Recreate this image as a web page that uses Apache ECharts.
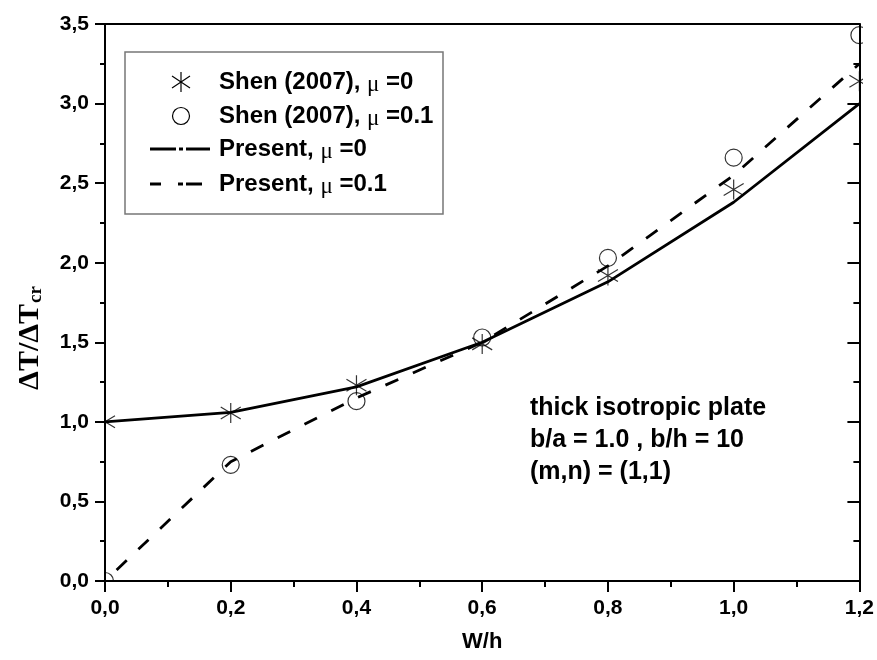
<!DOCTYPE html>
<html><head><meta charset="utf-8">
<script src="https://cdn.jsdelivr.net/npm/echarts@6/dist/echarts.min.js"></script>
<style>html,body{margin:0;padding:0;background:#fff}#c{width:877px;height:660px}</style>
</head><body><div id="c"></div>
<script>
const xVals = [0, 0.2, 0.4, 0.6, 0.8, 1.0, 1.2];
const presentMu0 = [1.0, 1.06, 1.22, 1.50, 1.88, 2.38, 3.00];
const presentMu01 = [0.0, 0.75, 1.15, 1.50, 1.98, 2.55, 3.25];
const shenMu0 = [1.0, 1.055, 1.23, 1.49, 1.92, 2.46, 3.14];
const shenMu01 = [0.0, 0.73, 1.13, 1.53, 2.03, 2.66, 3.43];
const legendNames = ['Shen (2007), ', 'Shen (2007), ', 'Present, ', 'Present, '];
const legendMu = ['=0', '=0.1', '=0', '=0.1'];
const noteLines = ['thick isotropic plate', 'b/a = 1.0 , b/h = 10', '(m,n) = (1,1)'];

const pair = arr => xVals.map((x, i) => [x, arr[i]]);
const fmt = v => v.toFixed(1).replace('.', ',');
const FONT = 'Liberation Sans, Arial, sans-serif';
const SERIF = 'Liberation Serif, Times New Roman, serif';
const starPath = 'path://M10,0L10,20M1,4L19,16M1,16L19,4';

const chart = echarts.init(document.getElementById('c'));
const W = 877, H = 660;
const gLeft = 105, gTop = 24, gRight = 15, gBottom = 79;

const legendY = [82, 116, 149, 184];
// white masks outside the plot frame so markers on the frame are clipped like the original
const graphics = [
  {type: 'rect', shape: {x: 0, y: 0, width: gLeft - 1, height: H}, style: {fill: '#fff'}, z: 5, silent: true},
  {type: 'rect', shape: {x: 0, y: H - gBottom + 1, width: W, height: gBottom}, style: {fill: '#fff'}, z: 5, silent: true},
  {type: 'rect', shape: {x: W - gRight + 1, y: 0, width: gRight, height: H}, style: {fill: '#fff'}, z: 5, silent: true},
  {type: 'rect', shape: {x: 0, y: 0, width: W, height: gTop - 1}, style: {fill: '#fff'}, z: 5, silent: true},
  {type: 'rect', shape: {x: 125, y: 52, width: 318, height: 162},
   style: {fill: '#fff', stroke: '#777', lineWidth: 1.5}, z: 50}
];
// legend star (three strokes)
const sx = 181, sy = legendY[0];
[[0, -10, 0, 10], [-9, -6, 9, 6], [-9, 6, 9, -6]].forEach(s =>
  graphics.push({type: 'line', shape: {x1: sx + s[0], y1: sy + s[1], x2: sx + s[2], y2: sy + s[3]}, style: {stroke: '#000', lineWidth: 1.2}, z: 51}));
graphics.push({type: 'circle', shape: {cx: 181, cy: legendY[1], r: 8.5}, style: {fill: 'none', stroke: '#000', lineWidth: 1.2}, z: 51});
[[150,176],[179,183],[186,210]].forEach(s => graphics.push({type: 'line', shape: {x1: s[0], y1: legendY[2], x2: s[1], y2: legendY[2]}, style: {stroke: '#000', lineWidth: 3}, z: 51}));
[[150,161],[178,183],[186,202]].forEach(s => graphics.push({type: 'line', shape: {x1: s[0], y1: legendY[3], x2: s[1], y2: legendY[3]}, style: {stroke: '#000', lineWidth: 3}, z: 51}));
legendNames.forEach((n, i) => graphics.push({type: 'text', x: 219, y: legendY[i], z: 51,
  style: {text: '{a|' + n + '}{m|μ}{a| ' + legendMu[i] + '}', verticalAlign: 'middle',
    rich: {a: {fontFamily: FONT, fontWeight: 'bold', fontSize: 24, fill: '#000'},
           m: {fontFamily: SERIF, fontSize: 23, fill: '#000', padding: [5, 0, 0, 0]}}}}));
noteLines.forEach((t, i) => graphics.push({type: 'text', x: 530, y: 408 + i * 32, z: 51,
  style: {text: t, verticalAlign: 'middle', fontFamily: FONT, fontWeight: 'bold', fontSize: 25, fill: '#000'}}));
// y-axis title
graphics.push({type: 'text', x: 30, y: 338, rotation: Math.PI / 2, z: 51,
  style: {text: '{a|ΔT/ΔT}{b|cr}', align: 'center', verticalAlign: 'middle',
    rich: {a: {fontFamily: SERIF, fontWeight: 'bold', fontSize: 30, fill: '#000'},
           b: {fontFamily: SERIF, fontWeight: 'bold', fontSize: 19, fill: '#000', padding: [12, 0, 0, 1]}}}});

const axisCommon = {
  z: 10,
  axisLine: {onZero: false, lineStyle: {color: '#000', width: 2}},
  splitLine: {show: false}
};
const tickStyle = {color: '#000', width: 2};

chart.setOption({
  animation: false,
  backgroundColor: '#fff',
  grid: {left: gLeft, top: gTop, right: gRight, bottom: gBottom, containLabel: false},
  xAxis: [
    Object.assign({type: 'value', min: 0, max: 1.2, interval: 0.2, position: 'bottom',
      name: 'W/h', nameLocation: 'middle', nameGap: 50,
      nameTextStyle: {fontFamily: FONT, fontWeight: 'bold', fontSize: 22, color: '#000'},
      axisTick: {show: true, inside: false, length: 11, lineStyle: tickStyle},
      minorTick: {show: true, splitNumber: 2, length: 6, lineStyle: tickStyle},
      axisLabel: {formatter: fmt, margin: 17, fontFamily: FONT, fontWeight: 'bold', fontSize: 21, color: '#000'}
    }, axisCommon),
    Object.assign({type: 'value', min: 0, max: 1.2, interval: 0.2, position: 'top',
      axisTick: {show: false}, axisLabel: {show: false}}, axisCommon)
  ],
  yAxis: [
    Object.assign({type: 'value', min: 0, max: 3.5, interval: 0.5, position: 'left',
      axisTick: {show: true, inside: false, length: 10, lineStyle: tickStyle},
      minorTick: {show: true, splitNumber: 2, length: 5, lineStyle: tickStyle},
      axisLabel: {formatter: fmt, margin: 16, fontFamily: FONT, fontWeight: 'bold', fontSize: 21, color: '#000'}
    }, axisCommon),
    Object.assign({type: 'value', min: 0, max: 3.5, interval: 0.5, position: 'right',
      axisTick: {show: true, inside: true, length: 12, lineStyle: tickStyle},
      minorTick: {show: true, splitNumber: 2, length: 6, lineStyle: tickStyle},
      axisLabel: {show: false}}, axisCommon)
  ],
  series: [
    {name: 'Present, μ =0', type: 'line', data: pair(presentMu0), symbol: 'none', clip: true,
     lineStyle: {color: '#000', width: 2.8, type: 'solid'}, z: 3},
    {name: 'Present, μ =0.1', type: 'line', data: pair(presentMu01), symbol: 'none', clip: true,
     lineStyle: {color: '#000', width: 2.8, type: [14, 16], dashOffset: 14}, z: 3},
    {name: 'Shen (2007), μ =0', type: 'scatter', data: pair(shenMu0), symbol: starPath, symbolSize: 20, clip: true,
     itemStyle: {color: 'none', borderColor: '#000', borderWidth: 1.2}, z: 4},
    {name: 'Shen (2007), μ =0.1', type: 'scatter', data: pair(shenMu01), symbol: 'circle', symbolSize: 17, clip: true,
     itemStyle: {color: 'none', borderColor: '#000', borderWidth: 1.2}, z: 4}
  ],
  graphic: graphics
});
</script></body></html>
